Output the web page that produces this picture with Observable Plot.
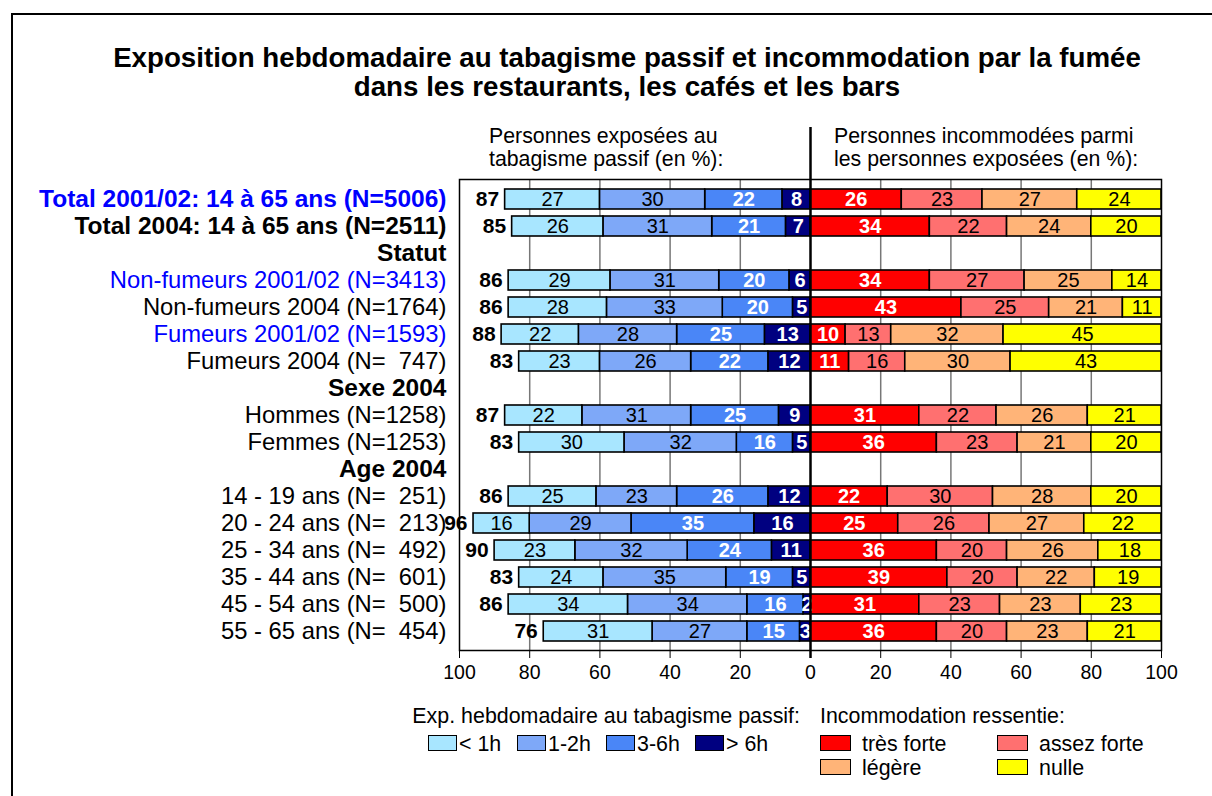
<!DOCTYPE html>
<html>
<head>
<meta charset="utf-8">
<script src="https://cdn.jsdelivr.net/npm/d3@7"></script>
<script src="https://cdn.jsdelivr.net/npm/@observablehq/plot@0.6"></script>
<style>
  html, body { margin: 0; padding: 0; background: #fff; overflow: hidden; }
  body { width: 1212px; height: 796px; position: relative; font-family: "Liberation Sans", Arial, sans-serif; color: #000; }
  #box { position: absolute; left: 11px; top: 13px; width: 1300px; height: 900px; border: 2px solid #000; box-sizing: border-box; }
  .abs { position: absolute; white-space: pre; z-index: 2; }
  #title { left: 0; width: 1254px; top: 43px; text-align: center; font-weight: bold; font-size: 27.7px; line-height: 29px; }
  .sub { font-size: 21.3px; line-height: 23px; top: 125px; }
  #chart { position: absolute; left: 0; top: 120px; z-index: 1; }
  .leg { font-size: 21.4px; line-height: 24px; }
  .sw { position: absolute; width: 28px; height: 16px; border: 1.5px solid #000; box-sizing: border-box; z-index: 2; }
</style>
</head>
<body>
<div id="box"></div>
<div id="title" class="abs">Exposition hebdomadaire au tabagisme passif et incommodation par la fumée
dans les restaurants, les cafés et les bars</div>
<div class="abs sub" style="left:489px">Personnes exposées au
tabagisme passif (en %):</div>
<div class="abs sub" style="left:834px">Personnes incommodées parmi
les personnes exposées (en %):</div>
<div id="chart"></div>
<div id="legend"></div>
<script>
// ---------- data ----------
const rows = [
  "Total 2001/02: 14 à 65 ans (N=5006)",
  "Total 2004: 14 à 65 ans (N=2511)",
  "Statut",
  "Non-fumeurs 2001/02 (N=3413)",
  "Non-fumeurs 2004 (N=1764)",
  "Fumeurs 2001/02 (N=1593)",
  "Fumeurs 2004 (N=  747)",
  "Sexe 2004",
  "Hommes (N=1258)",
  "Femmes (N=1253)",
  "Age 2004",
  "14 - 19 ans (N=  251)",
  "20 - 24 ans (N=  213)",
  "25 - 34 ans (N=  492)",
  "35 - 44 ans (N=  601)",
  "45 - 54 ans (N=  500)",
  "55 - 65 ans (N=  454)"
];
// exposure (%), null = header row
const expLt1h = [27, 26, null, 29, 28, 22, 23, null, 22, 30, null, 25, 16, 23, 24, 34, 31];
const exp12h  = [30, 31, null, 31, 33, 28, 26, null, 31, 32, null, 23, 29, 32, 35, 34, 27];
const exp36h  = [22, 21, null, 20, 20, 25, 22, null, 25, 16, null, 26, 35, 24, 19, 16, 15];
const expGt6h = [ 8,  7, null,  6,  5, 13, 12, null,  9,  5, null, 12, 16, 11,  5,  2,  3];
const expTotal = [87, 85, null, 86, 86, 88, 83, null, 87, 83, null, 86, 96, 90, 83, 86, 76];
// incommodation (%)
const incTresForte  = [26, 34, null, 34, 43, 10, 11, null, 31, 36, null, 22, 25, 36, 39, 31, 36];
const incAssezForte = [23, 22, null, 27, 25, 13, 16, null, 22, 23, null, 30, 26, 20, 20, 23, 20];
const incLegere     = [27, 24, null, 25, 21, 32, 30, null, 26, 21, null, 28, 27, 26, 22, 23, 23];
const incNulle      = [24, 20, null, 14, 11, 45, 43, null, 21, 20, null, 20, 22, 18, 19, 23, 21];

const expSeries = ["< 1h", "1-2h", "3-6h", "> 6h"];
const incSeries = ["très forte", "assez forte", "légère", "nulle"];
const tickValues = [-100, -80, -60, -40, -20, 0, 20, 40, 60, 80, 100];

// ---------- colours ----------
const expColors = ["#a8e6ff", "#7ea8f8", "#4a86f7", "#000080"];
const incColors = ["#ff0000", "#ff7070", "#ffb478", "#ffff00"];

// ---------- derived long tables ----------
const expBySeries = {"< 1h": expLt1h, "1-2h": exp12h, "3-6h": exp36h, "> 6h": expGt6h};
const incBySeries = {"très forte": incTresForte, "assez forte": incAssezForte, "légère": incLegere, "nulle": incNulle};
const expLong = [], incLong = [], totals = [];
rows.forEach((r, i) => {
  if (expTotal[i] == null) return;
  let c = 0;
  for (const s of [...expSeries].reverse()) {
    const v = expBySeries[s][i];
    expLong.push({row: r, series: s, value: v, x1: -c, x2: -(c + v)});
    c += v;
  }
  totals.push({row: r, total: expTotal[i]});
  c = 0;
  for (const s of incSeries) {
    const v = incBySeries[s][i];
    incLong.push({row: r, series: s, value: v, x1: c, x2: c + v});
    c += v;
  }
});
const isHeader = r => expTotal[rows.indexOf(r)] == null;
const isBold = r => isHeader(r) || r.startsWith("Total");
const isBlue = r => r.includes("2001/02");
const mid = d => (d.x1 + d.x2) / 2;
const whiteSeries = new Set(["3-6h", "> 6h", "très forte"]);

const rowLabel = (filter, fill, weight, size) => Plot.text(rows, {
  filter, y: d => d, text: d => d, frameAnchor: "left", textAnchor: "end",
  dx: -13, fontSize: size, fill, fontWeight: weight
});

const chart = Plot.plot({
  width: 1212,
  height: 580,
  marginTop: 59,
  marginBottom: 50,
  marginLeft: 459,
  marginRight: 51,
  style: {fontFamily: "'Liberation Sans', Arial, sans-serif", fontSize: "19.5px", background: "transparent", overflow: "visible", color: "#000"},
  x: {domain: [-100, 100], ticks: tickValues, tickFormat: d => Math.abs(d), tickSize: 8, tickPadding: 7, label: null},
  y: {domain: rows, axis: null, paddingInner: 0.27, paddingOuter: 0.15},
  color: {domain: [...expSeries, ...incSeries], range: [...expColors, ...incColors]},
  marks: [
    Plot.ruleX(tickValues.filter(t => Math.abs(t) !== 100 && t !== 0), {stroke: "#777", strokeWidth: 1.5}),
    Plot.barX(expLong, {x1: "x1", x2: "x2", y: "row", fill: "series", stroke: "#000", strokeWidth: 1.6}),
    Plot.barX(incLong, {x1: "x1", x2: "x2", y: "row", fill: "series", stroke: "#000", strokeWidth: 1.6}),
    Plot.text(expLong.filter(d => !whiteSeries.has(d.series)), {x: mid, y: "row", text: "value", fill: "#000", fontSize: 20}),
    Plot.text(expLong.filter(d => whiteSeries.has(d.series)), {x: mid, y: "row", text: "value", fill: "#fff", fontSize: 20, fontWeight: "bold"}),
    Plot.text(incLong.filter(d => !whiteSeries.has(d.series)), {x: mid, y: "row", text: "value", fill: "#000", fontSize: 20}),
    Plot.text(incLong.filter(d => whiteSeries.has(d.series)), {x: mid, y: "row", text: "value", fill: "#fff", fontSize: 20, fontWeight: "bold"}),
    Plot.text(totals, {x: d => -d.total, y: "row", text: "total", textAnchor: "end", dx: -6, fill: "#000", fontSize: 21, fontWeight: "bold"}),
    Plot.frame({stroke: "#000", strokeWidth: 1.5}),
    Plot.ruleX([0], {stroke: "#000", strokeWidth: 2.5, insetTop: -52, insetBottom: -8}),
    rowLabel(r => isBold(r) && isBlue(r), "#0000ff", "bold", 24.5),
    rowLabel(r => isBold(r) && !isBlue(r), "#000", "bold", 24.5),
    rowLabel(r => !isBold(r) && isBlue(r), "#0000ff", "normal", 23.8),
    rowLabel(r => !isBold(r) && !isBlue(r), "#000", "normal", 23.8)
  ]
});
document.getElementById("chart").appendChild(chart);

// ---------- legend (HTML, below the chart) ----------
const legend = document.getElementById("legend");
function addText(txt, left, top, align) {
  const el = document.createElement("div");
  el.className = "abs leg";
  el.textContent = txt;
  el.style.top = top + "px";
  if (align === "right") { el.style.right = (1212 - left) + "px"; } else { el.style.left = left + "px"; }
  legend.appendChild(el);
}
function addSwatch(color, left, top, w) {
  const el = document.createElement("div");
  el.className = "sw";
  el.style.background = color;
  el.style.left = left + "px";
  el.style.top = top + "px";
  el.style.width = w + "px";
  legend.appendChild(el);
}
addText("Exp. hebdomadaire au tabagisme passif:", 800, 704, "right");
addText("Incommodation ressentie:", 820, 704);
const expLegX = [428, 517, 606, 695];
expSeries.forEach((s, i) => {
  addSwatch(expColors[i], expLegX[i], 735, 29);
  addText(s, expLegX[i] + 31, 732);
});
const incLegPos = [[820, 735], [997, 735], [820, 759], [997, 759]];
incSeries.forEach((s, i) => {
  const [lx, ly] = incLegPos[i];
  addSwatch(incColors[i], lx, ly, 31);
  addText(s, lx + 42, ly - 3);
});
</script>
</body>
</html>
